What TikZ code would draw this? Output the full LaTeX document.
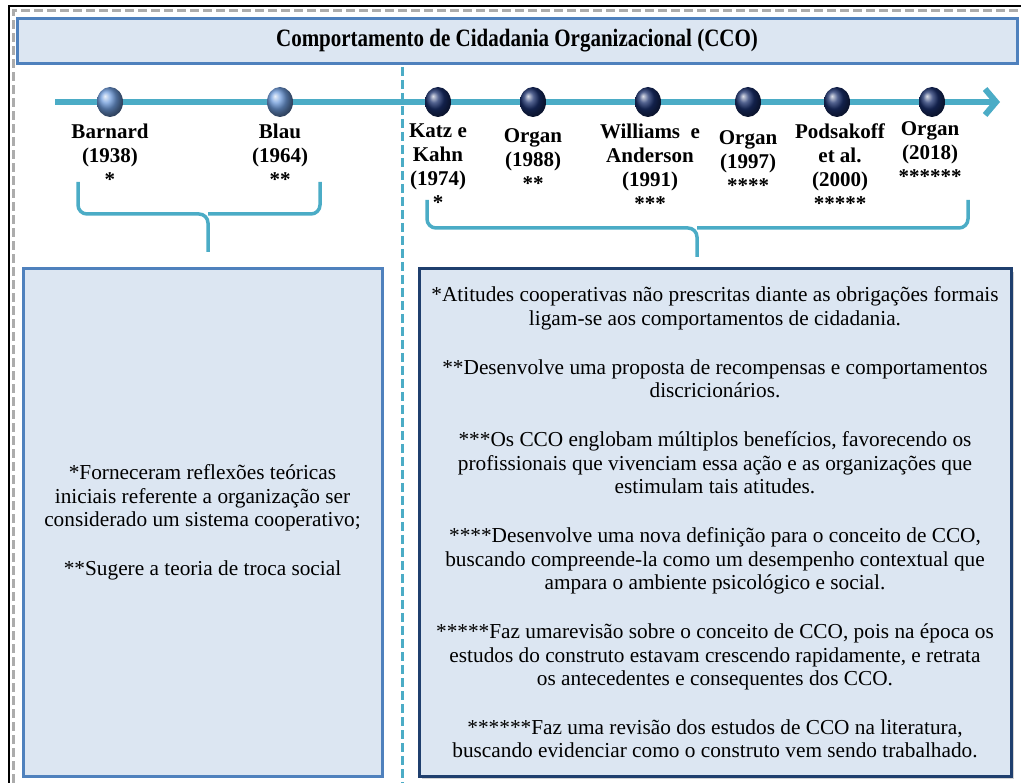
\documentclass[tikz,border=0pt]{standalone}
\usepackage{fontspec}
\setmainfont{Liberation Serif}
\usepackage{tikz}
\usetikzlibrary{shapes.geometric,shadows,arrows.meta}
\definecolor{boxfill}{HTML}{DCE6F2}
\definecolor{boxline}{HTML}{4F81BD}
\definecolor{navyline}{HTML}{1F3F6E}
\definecolor{teal}{HTML}{4BACC6}
\definecolor{dotlight}{HTML}{6E9BDB}
\definecolor{dotdark}{HTML}{1A2F6B}

\begin{document}
\begin{tikzpicture}[x=1pt, y=-1pt,
    every node/.style={inner sep=0pt, align=center},
    lbl/.style={anchor=north, font=\fontsize{21}{24}\bfseries\selectfont},
    olddot/.style={ellipse, minimum width=26pt, minimum height=30pt, shading=ball, ball color=dotlight},
    newdot/.style={ellipse, minimum width=26pt, minimum height=30pt, shading=ball, ball color=dotdark},
    infobox/.style={draw=boxline, fill=boxfill, line width=3pt, font=\fontsize{21.3}{23.3}\selectfont},
    brace/.style={teal, line width=3.5pt, rounded corners=9pt}]
    \useasboundingbox (0,0) rectangle (1021,783);
    \draw [black, line width=2pt] (9,783) -- (9,6) -- (1021,6);
    \draw [gray!65, line width=3pt, dash pattern=on 9pt off 4pt] (13,783) -- (13,11) -- (1021,11);
    \node [infobox, minimum width=1000pt, minimum height=45pt, font=\fontsize{25}{28}\bfseries\selectfont] (title) at (517,41)
        {\scalebox{0.84}[1]{Comportamento de Cidadania Organizacional (CCO)}};
    \draw [teal, dashed, line width=3pt, dash pattern=on 9pt off 4pt] (402,67) -- (402,783);
    \draw [teal, line width=6pt, -{Straight Barb[length=11pt, width=26pt]}] (55,102) -- (1000,102);
    \node [olddot] (barnard) at (110,102) {};
    \node [olddot] (blau) at (280,102) {};
    \node [newdot] (katz) at (438,102) {};
    \node [newdot] (organa) at (533,102) {};
    \node [newdot] (williams) at (648,102) {};
    \node [newdot] (organb) at (748,102) {};
    \node [newdot] (podsakoff) at (837,102) {};
    \node [newdot] (organc) at (932,102) {};
    \node [lbl] (barnardlbl) at (110,124) {Barnard\\(1938)\\*};
    \node [lbl] (blaulbl) at (280,124) {Blau\\(1964)\\**};
    \node [lbl] (katzlbl) at (438,124) {Katz e\\Kahn\\(1974)\\*};
    \node [lbl] (organalbl) at (533,128) {Organ\\(1988)\\**};
    \node [lbl] (williamslbl) at (650,124) {Williams~ e\\Anderson\\(1991)\\***};
    \node [lbl] (organblbl) at (748,130) {Organ\\(1997)\\****};
    \node [lbl] (podsakofflbl) at (840,124) {Podsakoff\\et al.\\(2000)\\*****};
    \node [lbl] (organclbl) at (930,121) {Organ\\(2018)\\******};
    \draw [brace] (78,182) -- (78,214) -- (208,214) -- (208,252);
    \draw [brace] (320,182) -- (320,214) -- (208,214);
    \draw [brace] (427,200) -- (427,228) -- (697,228) -- (697,257);
    \draw [brace] (968,200) -- (968,228) -- (697,228);
    \node [infobox, minimum width=359pt, minimum height=507pt] (leftbox) at (202.5,522.5)
        {*Forneceram reflexões teóricas\\iniciais referente a organização ser\\considerado um sistema cooperativo;\\[26pt]**Sugere a teoria de troca social};
    \node [infobox, draw=navyline, drop shadow={shadow xshift=3pt, shadow yshift=-3pt, opacity=0.35},
        minimum width=592pt, minimum height=507pt] (rightbox) at (715,522.5)
        {*Atitudes cooperativas não prescritas diante as obrigações formais\\
         ligam-se aos comportamentos de cidadania.\\[26pt]
         **Desenvolve uma proposta de recompensas e comportamentos\\
         discricionários.\\[26pt]
         ***Os CCO englobam múltiplos benefícios, favorecendo os\\
         profissionais que vivenciam essa ação e as organizações que\\
         estimulam tais atitudes.\\[26pt]
         ****Desenvolve uma nova definição para o conceito de CCO,\\
         buscando compreende-la como um desempenho contextual que\\
         ampara o ambiente psicológico e social.\\[26pt]
         *****Faz umarevisão sobre o conceito de CCO, pois na época os\\
         estudos do construto estavam crescendo rapidamente, e retrata\\
         os antecedentes e consequentes dos CCO.\\[26pt]
         ******Faz uma revisão dos estudos de CCO na literatura,\\
         buscando evidenciar como o construto vem sendo trabalhado.};
\end{tikzpicture}
\end{document}
